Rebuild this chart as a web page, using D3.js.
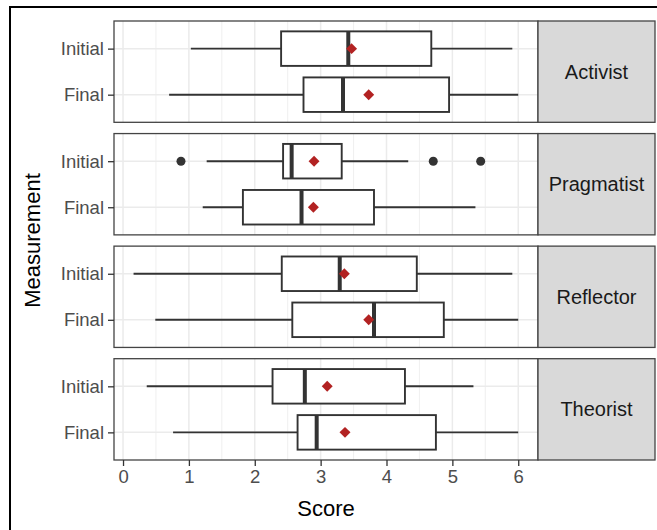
<!DOCTYPE html>
<html>
<head>
<meta charset="utf-8">
<script src="https://cdn.jsdelivr.net/npm/d3@7"></script>
<style>
  body { margin: 0; background: #fff; }
  text { font-family: "Liberation Sans", Arial, sans-serif; }
</style>
</head>
<body>
<div id="chart"></div>
<script>
// styles (panels) and measurements
const styles = ["Activist", "Pragmatist", "Reflector", "Theorist"];
const measures = ["Initial", "Final"];
const xTicks = [0, 1, 2, 3, 4, 5, 6];

// box stats, order: Initial, Final per style
const lowWhisker = [[1.03, 0.70], [1.27, 1.21], [0.16, 0.49], [0.36, 0.76]];
const q1s        = [[2.40, 2.74], [2.43, 1.82], [2.41, 2.57], [2.27, 2.65]];
const medians    = [[3.42, 3.34], [2.56, 2.71], [3.29, 3.81], [2.76, 2.94]];
const q3s        = [[4.68, 4.95], [3.32, 3.81], [4.46, 4.87], [4.28, 4.75]];
const highWhisker= [[5.91, 6.00], [4.33, 5.35], [5.91, 6.00], [5.32, 6.00]];
const means      = [[3.47, 3.73], [2.90, 2.89], [3.36, 3.73], [3.10, 3.37]];
const outliers   = [[[], []], [[0.88, 4.71, 5.43], []], [[], []], [[], []]];

const width = 657, height = 530;
const plotLeft = 114, plotRight = 538, stripW = 117;
const plotTop = 21, plotBottom = 460;

const svg = d3.select("#chart").append("svg")
  .attr("width", width).attr("height", height);

// outer frame
svg.append("rect")
  .attr("x", 10).attr("y", 7).attr("width", 700).attr("height", 600)
  .attr("fill", "none").attr("stroke", "#000").attr("stroke-width", 2);

const x = d3.scaleLinear().domain([-0.137, 6.30]).range([plotLeft, plotRight]);
const facet = d3.scaleBand().domain(styles).range([plotTop, plotBottom]).paddingInner(0.1);

styles.forEach((s, i) => {
  const y0 = facet(s), h = facet.bandwidth();
  const y = d3.scalePoint().domain(measures).range([y0, y0 + h]).padding(0.6);
  const bw = y.step() * 0.75;
  const g = svg.append("g");

  g.append("rect").attr("x", plotLeft).attr("y", y0)
    .attr("width", plotRight - plotLeft).attr("height", h).attr("fill", "#fff");

  // minor grid
  g.selectAll(".minor").data(d3.range(-0.5, 6.5, 1).filter(v => x(v) > plotLeft && x(v) < plotRight))
    .join("line")
    .attr("x1", d => x(d)).attr("x2", d => x(d))
    .attr("y1", y0).attr("y2", y0 + h)
    .attr("stroke", "#EBEBEB").attr("stroke-width", 0.8);
  // major grid
  g.selectAll(".major").data(xTicks).join("line")
    .attr("x1", d => x(d)).attr("x2", d => x(d))
    .attr("y1", y0).attr("y2", y0 + h)
    .attr("stroke", "#EBEBEB").attr("stroke-width", 1.5);
  g.selectAll(".hmajor").data(measures).join("line")
    .attr("x1", plotLeft).attr("x2", plotRight)
    .attr("y1", d => y(d)).attr("y2", d => y(d))
    .attr("stroke", "#EBEBEB").attr("stroke-width", 1.5);

  measures.forEach((m, j) => {
    const cy = y(m);
    // whiskers
    g.append("line").attr("x1", x(lowWhisker[i][j])).attr("x2", x(q1s[i][j]))
      .attr("y1", cy).attr("y2", cy).attr("stroke", "#333").attr("stroke-width", 1.9);
    g.append("line").attr("x1", x(q3s[i][j])).attr("x2", x(highWhisker[i][j]))
      .attr("y1", cy).attr("y2", cy).attr("stroke", "#333").attr("stroke-width", 1.9);
    // box
    g.append("rect").attr("x", x(q1s[i][j])).attr("y", cy - bw / 2)
      .attr("width", x(q3s[i][j]) - x(q1s[i][j])).attr("height", bw)
      .attr("fill", "#fff").attr("stroke", "#333").attr("stroke-width", 1.9);
    // median
    g.append("line").attr("x1", x(medians[i][j])).attr("x2", x(medians[i][j]))
      .attr("y1", cy - bw / 2).attr("y2", cy + bw / 2)
      .attr("stroke", "#333").attr("stroke-width", 4);
    // outliers
    g.selectAll(null).data(outliers[i][j]).join("circle")
      .attr("cx", d => x(d)).attr("cy", cy).attr("r", 4.5).attr("fill", "#333");
    // mean
    g.append("path")
      .attr("d", d3.symbol().type(d3.symbolSquare).size(60)())
      .attr("transform", `translate(${x(means[i][j])},${cy}) rotate(45)`)
      .attr("fill", "#B22222");
  });

  // panel border
  g.append("rect").attr("x", plotLeft).attr("y", y0)
    .attr("width", plotRight - plotLeft).attr("height", h)
    .attr("fill", "none").attr("stroke", "#444").attr("stroke-width", 1.3);

  // strip
  g.append("rect").attr("x", plotRight).attr("y", y0)
    .attr("width", stripW).attr("height", h)
    .attr("fill", "#D9D9D9").attr("stroke", "#444").attr("stroke-width", 1.3);
  g.append("text").attr("x", plotRight + stripW / 2).attr("y", y0 + h / 2)
    .attr("text-anchor", "middle").attr("dominant-baseline", "central")
    .attr("font-size", 20).attr("fill", "#1A1A1A").text(s);

  // y axis
  const ya = g.append("g").attr("transform", `translate(${plotLeft},0)`)
    .call(d3.axisLeft(y).tickSize(6).tickPadding(4));
  ya.select(".domain").remove();
  ya.selectAll("line").attr("stroke", "#333").attr("stroke-width", 1.3);
  ya.selectAll("text").attr("font-size", 18.5).attr("fill", "#4D4D4D");
});

// x axis
const xa = svg.append("g").attr("transform", `translate(0,${plotBottom})`)
  .call(d3.axisBottom(x).tickValues(xTicks).tickFormat(d3.format("d")).tickSize(6).tickPadding(4));
xa.select(".domain").remove();
xa.selectAll("line").attr("stroke", "#333").attr("stroke-width", 1.3);
xa.selectAll("text").attr("font-size", 18.5).attr("fill", "#4D4D4D");

svg.append("text").attr("x", (plotLeft + plotRight) / 2).attr("y", 516)
  .attr("text-anchor", "middle").attr("font-size", 22).attr("fill", "#000").text("Score");
svg.append("text")
  .attr("transform", `translate(40,${(plotTop + plotBottom) / 2}) rotate(-90)`)
  .attr("text-anchor", "middle").attr("font-size", 22).attr("fill", "#000").text("Measurement");
</script>
</body>
</html>
